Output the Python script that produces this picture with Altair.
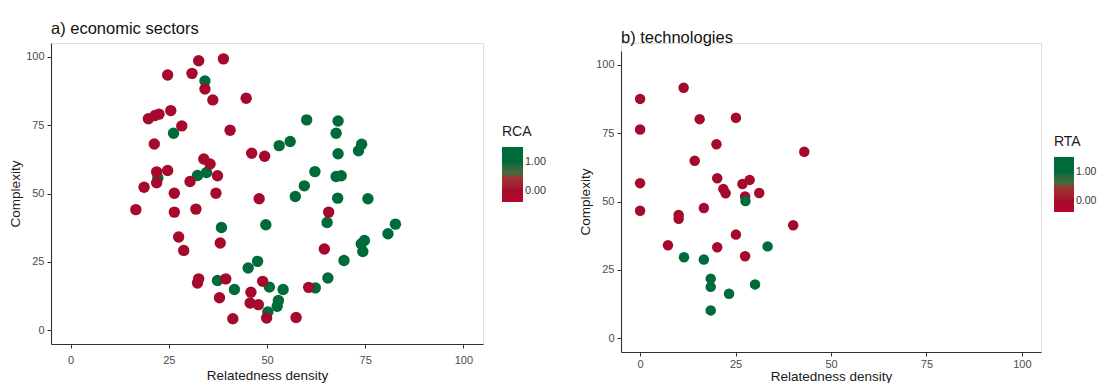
import altair as alt
import pandas as pd

FONT = "Liberation Sans"

# ---- a) economic sectors: relatedness density, complexity, RCA (0/1) ----
a_density = [34.2, 26.2, 22.2, 32.3, 34.6, 60.1, 68.1, 67.6, 55.9, 53.1,
             74.1, 73.3, 68.1, 62.2, 67.6, 68.9, 59.5, 57.2, 68.0, 75.7,
             65.3, 38.4, 49.7, 82.7, 80.8, 74.8, 74.0, 74.4, 69.6, 47.6,
             45.2, 37.4, 50.6, 54.1, 62.3, 65.5, 41.7, 52.9, 52.6, 50.2,
             19.8, 21.5, 22.5, 25.5, 28.3, 21.3, 24.7, 30.9, 32.6, 38.9,
             34.2, 36.2, 44.7, 40.6, 46.1, 49.4, 33.9, 35.5, 37.4, 37.0,
             48.0, 21.9, 21.9, 24.7, 18.7, 26.4, 30.4, 16.6, 26.4, 31.9,
             38.1, 27.5, 28.8, 65.7, 64.6, 32.6, 32.3, 39.5, 37.9, 45.9,
             45.7, 47.8, 41.3, 49.9, 57.4, 48.9, 60.6]
a_complexity = [91.1, 72.0, 55.7, 56.6, 57.7, 76.9, 76.5, 72.0, 69.0, 67.5,
                68.0, 65.6, 64.5, 58.0, 56.2, 56.5, 52.8, 48.9, 48.3, 48.1,
                39.4, 37.6, 38.6, 38.8, 35.3, 32.8, 31.6, 28.8, 25.5, 25.2,
                22.8, 18.2, 15.8, 14.9, 15.5, 19.1, 14.9, 10.9, 8.8, 6.7,
                77.3, 78.5, 79.0, 80.3, 74.7, 68.1, 93.3, 93.9, 98.5, 99.2,
                88.2, 84.2, 84.8, 73.1, 64.7, 63.6, 62.6, 60.8, 56.5, 50.1,
                48.1, 57.9, 53.9, 58.4, 52.3, 50.1, 54.4, 44.1, 43.2, 44.3,
                31.9, 34.1, 29.2, 43.2, 29.7, 18.8, 17.3, 18.8, 11.9, 13.9,
                10.0, 9.4, 4.2, 4.5, 4.7, 17.9, 15.7]
a_rca = [1] * 40 + [0] * 47

# ---- b) technologies: relatedness density, complexity, RTA (0/1) ----
b_density = [11.4, 0.0, 0.0, 15.6, 25.1, 20.0, 14.3, 43.0, 0.0, 20.2,
             21.8, 22.4, 26.8, 28.7, 31.2, 27.5, 0.0, 10.1, 10.1, 16.7,
             7.3, 20.2, 25.1, 27.5, 40.1,
             27.6, 11.5, 16.7, 33.4, 18.5, 18.5, 23.3, 30.1, 18.5]
b_complexity = [91.6, 87.5, 76.3, 80.1, 80.6, 70.9, 64.9, 68.2, 56.7, 58.5,
                54.6, 53.0, 56.4, 57.9, 53.1, 51.8, 46.6, 45.1, 43.7, 47.6,
                34.0, 33.3, 37.9, 30.0, 41.3,
                50.2, 29.6, 28.8, 33.6, 21.8, 18.8, 16.3, 19.7, 10.2]
b_rta = [0] * 25 + [1] * 9

axis_ticks = [0, 25, 50, 75, 100]
legend_values = [0, 1]
color_domain = [-0.38, 0, 0.57, 0.59, 1, 1.54]
color_range = ["#B8062C", "#A50A2D", "#993834", "#46693E", "#006B3A", "#006B3A"]

df_a = pd.DataFrame({"density": a_density, "complexity": a_complexity, "RCA": a_rca})
df_b = pd.DataFrame({"density": b_density, "complexity": b_complexity, "RTA": b_rta})


def axis(title, lp=3, tp=3):
    return alt.Axis(
        title=title, values=axis_ticks, grid=False,
        domainColor="#333333", domainWidth=1.1,
        tickColor="#333333", tickSize=4, tickWidth=1,
        labelColor="#4D4D4D", labelFontSize=11, labelFont=FONT, labelPadding=lp,
        titleFont=FONT, titleFontSize=13.5, titleFontWeight="normal",
        titleColor="#1A1A1A", titlePadding=tp,
    )


def panel(df, field, title, w, h, top, size, lx, ly, xlp, xtp, lthick, lfs):
    return alt.Chart(df, title=title).mark_circle(size=size, opacity=1).encode(
        x=alt.X("density:Q", scale=alt.Scale(domain=[-5, 105], nice=False, zero=False),
                axis=axis("Relatedness density", xlp, xtp)),
        y=alt.Y("complexity:Q",
                scale=alt.Scale(domain=[-5, 105], nice=False, zero=False, range=[h, top]),
                axis=axis("Complexity")),
        color=alt.Color(
            f"{field}:Q",
            scale=alt.Scale(domain=color_domain, range=color_range),
            legend=alt.Legend(
                title=field, orient="none", legendX=lx, legendY=ly,
                direction="vertical", values=legend_values, format=".2f",
                gradientLength=55, gradientThickness=lthick, gradientStrokeWidth=0,
                titleFont=FONT, titleFontSize=14, titleFontWeight="normal",
                titleColor="#1A1A1A", titlePadding=8,
                labelFont=FONT, labelFontSize=lfs, labelColor="#333333",
                labelOffset=2, labelOverlap=False,
            ),
        ),
    ).properties(width=w, height=h)


title_a = alt.TitleParams(text="a) economic sectors", anchor="start", frame="group",
                          font=FONT, fontSize=16.5, fontWeight="normal", color="#111111",
                          offset=6)
title_b = alt.TitleParams(text="b) technologies", anchor="start", frame="group",
                          font=FONT, fontSize=16.5, fontWeight="normal", color="#111111",
                          offset=-3)

left = panel(df_a, "RCA", title_a, 432, 301, 0, 130, 451, 82, 6, 3, 21, 10.8)
right = panel(df_b, "RTA", title_b, 420, 309, 8, 110, 433, 92, 2, 0, 20, 10.5)

chart = alt.hconcat(left, right, spacing=30).resolve_scale(color="independent").properties(
    padding={"left": 0, "top": 12, "right": 0, "bottom": 0}
).configure_view(strokeWidth=0).configure(background="white")

chart.save("out.html", embed_options={"renderer": "svg", "actions": False})
